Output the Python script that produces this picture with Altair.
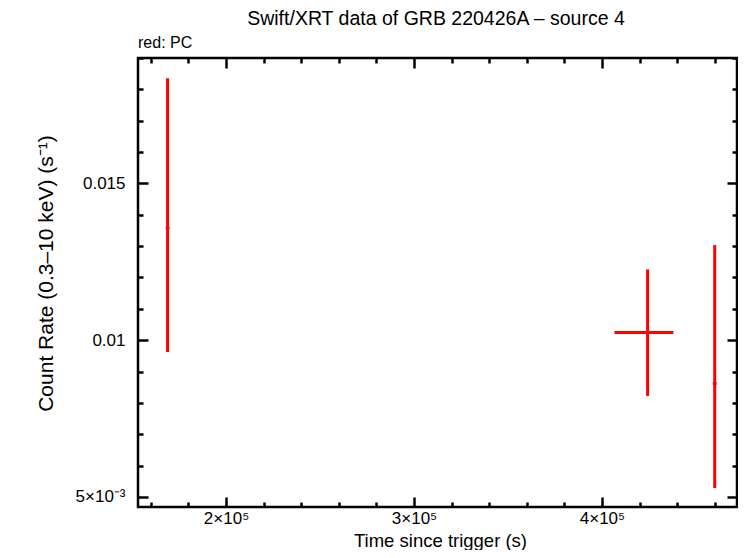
import altair as alt
import pandas as pd

# ---- data ----
t = [168900, 424300, 460000]
t_lo = [167900, 406700, 459000]
t_hi = [169900, 438000, 461000]
rate = [0.013575, 0.010246, 0.008617]
rate_lo = [0.009627, 0.008223, 0.005287]
rate_hi = [0.018352, 0.012256, 0.013032]

x_domain = [153155, 471866]
y_domain = [0.00468, 0.0190]
x_ticks = [160000, 180000, 200000, 220000, 240000, 260000, 280000, 300000,
           320000, 340000, 360000, 380000, 400000, 420000, 440000, 460000]
y_ticks = [0.005, 0.006, 0.007, 0.008, 0.009, 0.010, 0.011, 0.012,
           0.013, 0.014, 0.015, 0.016, 0.017, 0.018, 0.019]

title_text = ["Swift/XRT data of GRB 220426A \u2013 source 4"]
legend_text = ["red: PC"]
x_title = "Time since trigger (s)"
y_title = "Count Rate (0.3\u201310 keV) (s\u207b\u00b9)"

df = pd.DataFrame({"t": t, "t_lo": t_lo, "t_hi": t_hi,
                   "rate": rate, "rate_lo": rate_lo, "rate_hi": rate_hi})

FONT = "Liberation Sans"
RED = "#ff0000"

x_major_test = "datum.value % 100000 == 0"
y_major_test = "round(datum.value * 1000) % 5 == 0"
x_label_expr = "datum.value % 100000 == 0 ? (datum.value / 100000) + '\u00d710\u2075' : ''"
y_label_expr = ("round(datum.value * 1000) == 5 ? '5\u00d710\u207b\u00b3' : "
                "round(datum.value * 1000) == 10 ? '0.01' : "
                "round(datum.value * 1000) == 15 ? '0.015' : ''")


def tick_size(test):
    return {"condition": {"test": test, "value": -10}, "value": -5}


x_scale = alt.Scale(domain=x_domain, nice=False, zero=False)
y_scale = alt.Scale(domain=y_domain, nice=False, zero=False)

axis_common = dict(domain=False, grid=False, ticks=True, tickColor="black",
                   tickWidth=2.5, labelFont=FONT, labelFontSize=17,
                   labelColor="black", titleFont=FONT,
                   titleColor="black", titleFontWeight="normal")

x_axis_bottom = alt.Axis(orient="bottom", values=x_ticks, labelExpr=x_label_expr,
                         tickSize=tick_size(x_major_test), labelPadding=13,
                         title=x_title, titleX=302, titleY=39, titleFontSize=18.5,
                         titleBaseline="alphabetic", labelFlush=False,
                         labelOverlap=False, **axis_common)
y_axis_left = alt.Axis(orient="left", values=y_ticks, labelExpr=y_label_expr,
                       tickSize=tick_size(y_major_test), labelPadding=23,
                       title=y_title, titleX=-86, titleY=215, titleAngle=-90,
                       titleFontSize=21,
                       titleAlign="center", titleBaseline="alphabetic",
                       labelOverlap=False, labelFlush=False, **axis_common)
x_axis_top = alt.Axis(orient="top", values=x_ticks, labels=False, title=None,
                      tickSize=tick_size(x_major_test), **axis_common)
y_axis_right = alt.Axis(orient="right", values=y_ticks, labels=False, title=None,
                        tickSize=tick_size(y_major_test), **axis_common)

base = alt.Chart(df)

vbars = base.mark_rule(color=RED, strokeWidth=3).encode(
    x=alt.X("t:Q", scale=x_scale, axis=x_axis_bottom),
    y=alt.Y("rate_lo:Q", scale=y_scale, axis=y_axis_left),
    y2="rate_hi:Q",
)
hbars = base.mark_rule(color=RED, strokeWidth=3).encode(
    x=alt.X("t_lo:Q", scale=x_scale, axis=x_axis_top),
    x2="t_hi:Q",
    y=alt.Y("rate:Q", scale=y_scale, axis=y_axis_right),
)

title_layer = alt.Chart(pd.DataFrame({"label": title_text})).mark_text(
    font=FONT, fontSize=19.5, align="center", baseline="alphabetic", color="black"
).encode(text="label:N", x=alt.value(298), y=alt.value(-33))

legend_layer = alt.Chart(pd.DataFrame({"label": legend_text})).mark_text(
    font=FONT, fontSize=16, align="left", baseline="alphabetic", color="black"
).encode(text="label:N", x=alt.value(0), y=alt.value(-10))

chart = alt.layer(vbars, hbars, title_layer, legend_layer).resolve_axis(
    x="independent", y="independent"
).properties(
    width=599, height=449,
    autosize=alt.AutoSizeParams(type="none"),
    padding={"left": 130, "top": 50, "right": 1, "bottom": 43},
    background="white",
).configure_view(stroke="black", strokeWidth=2.5)

chart.save("out.html", embed_options={"renderer": "svg", "actions": False})
